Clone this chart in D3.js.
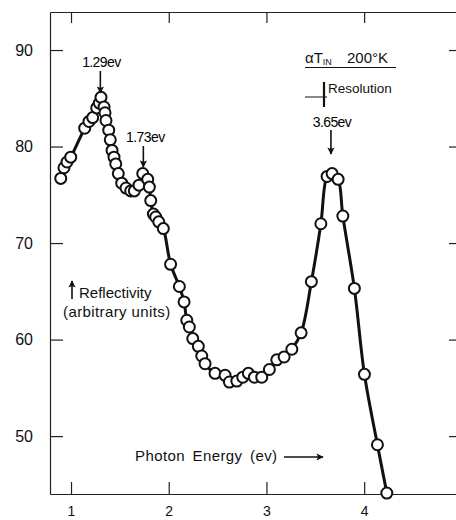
<!DOCTYPE html>
<html lang="en">
<head>
  <title>Reflectivity of alpha tin</title>
  <meta charset="UTF-8">
  <style>
    body { margin: 0; background: #fff; }
    svg { display: block; font-family: "Liberation Sans", Arial, sans-serif; }
  </style>
  <script src="https://cdn.jsdelivr.net/npm/d3@7"></script>
</head>
<body>
  <script>
    // photon energy (ev) and reflectivity (arbitrary units)
    var energy = [0.895, 0.928, 0.959, 0.997, 1.140, 1.184, 1.222, 1.263, 1.290, 1.307,
                  1.338, 1.348, 1.358, 1.386, 1.402, 1.420, 1.440, 1.458, 1.484, 1.519,
                  1.563, 1.611, 1.648, 1.696, 1.734, 1.785, 1.802, 1.816, 1.843, 1.867,
                  1.898, 1.945, 2.019, 2.109, 2.157, 2.185, 2.211, 2.246, 2.303, 2.338,
                  2.372, 2.474, 2.577, 2.621, 2.697, 2.758, 2.815, 2.877, 2.952, 3.030,
                  3.106, 3.181, 3.260, 3.355, 3.460, 3.557, 3.621, 3.672, 3.734, 3.782,
                  3.900, 4.003, 4.136, 4.232];
    var reflectivity = [76.7, 77.8, 78.4, 78.9, 81.9, 82.6, 83.0, 84.0, 84.5, 85.1,
                        84.1, 83.5, 82.7, 81.7, 80.7, 79.6, 78.9, 78.2, 77.2, 76.2,
                        75.7, 75.4, 75.4, 76.0, 77.2, 76.6, 75.8, 74.4, 73.0, 72.7,
                        72.2, 71.5, 67.8, 65.5, 63.9, 62.0, 61.3, 60.1, 59.3, 58.3,
                        57.5, 56.5, 56.3, 55.6, 55.7, 56.1, 56.5, 56.1, 56.1, 56.9,
                        57.9, 58.2, 59.0, 60.7, 66.0, 72.0, 76.9, 77.2, 76.6, 72.8,
                        65.3, 56.4, 49.1, 44.1];

    var peakEnergy = [1.29, 1.73, 3.65];
    var peakLabels = ["1.29ev", "1.73ev", "3.65ev"];

    var xTicks = [1, 2, 3, 4];
    var yTicks = [50, 60, 70, 80, 90];

    var W = 456, H = 520;
    var mLeft = 50, mTop = 12, mRight = 456, mBottom = 494;

    var x = d3.scaleLinear().domain([0.785, 4.94]).range([mLeft, mRight]);
    var y = d3.scaleLinear().domain([44, 93.94]).range([mBottom, mTop]);

    var svg = d3.select("body").append("svg").attr("width", W).attr("height", H);

    var defs = svg.append("defs");
    defs.append("marker")
      .attr("id", "head")
      .attr("viewBox", "0 0 10 10")
      .attr("refX", 9).attr("refY", 5)
      .attr("markerWidth", 5).attr("markerHeight", 4.5)
      .attr("orient", "auto")
      .append("path").attr("d", "M0,0L10,5L0,10L2,5Z").attr("fill", "#111");

    // axes
    var axisStyle = function(g) {
      g.selectAll("path, line").attr("stroke", "#222").attr("stroke-width", 1.2);
      g.selectAll("text").attr("fill", "#111");
    };

    svg.append("g")
      .attr("transform", "translate(" + mLeft + ",0)")
      .call(d3.axisLeft(y).tickValues(yTicks).tickSize(-13).tickSizeOuter(0).tickPadding(17))
      .call(axisStyle)
      .call(function(g) { g.selectAll("text").attr("font-size", 16).attr("font-family", "inherit"); });

    svg.append("g")
      .attr("transform", "translate(" + mRight + ",0)")
      .call(d3.axisRight(y).tickValues(yTicks).tickSize(-7).tickFormat(""))
      .call(axisStyle)
      .call(function(g) { g.select(".domain").remove(); });

    svg.append("g")
      .attr("transform", "translate(0," + mTop + ")")
      .call(d3.axisTop(x).tickValues(xTicks).tickSize(-11).tickSizeOuter(0).tickFormat(""))
      .call(axisStyle);

    svg.append("g")
      .attr("transform", "translate(0," + mBottom + ")")
      .call(d3.axisBottom(x).tickValues(xTicks).tickFormat(d3.format("d"))
        .tickSize(-12).tickSizeOuter(0).tickPadding(12))
      .call(axisStyle)
      .call(function(g) { g.selectAll("text").attr("font-size", 14).attr("font-family", "inherit"); });

    // curve and points
    var pts = energy.map(function(e, i) { return [e, reflectivity[i]]; });

    svg.append("path")
      .datum(pts)
      .attr("fill", "none")
      .attr("stroke", "#111")
      .attr("stroke-width", 3)
      .attr("stroke-linejoin", "round")
      .attr("d", d3.line()
        .x(function(d) { return x(d[0]); })
        .y(function(d) { return y(d[1]); })
        .curve(d3.curveCatmullRom.alpha(0.5)));

    svg.append("g").selectAll("circle")
      .data(pts)
      .enter()
      .append("circle")
      .attr("cx", function(d) { return x(d[0]); })
      .attr("cy", function(d) { return y(d[1]); })
      .attr("r", 5.5)
      .attr("fill", "#fff")
      .attr("stroke", "#111")
      .attr("stroke-width", 2);

    // peak labels with arrows
    var labelY = [67, 142, 127];
    var arrowTop = [71, 146, 130];
    var arrowTip = [93, 167, 154];
    var labelDx = [2, 3, 2];

    var peaks = svg.append("g");
    peakEnergy.forEach(function(e, i) {
      peaks.append("text")
        .attr("x", x(e) + labelDx[i]).attr("y", labelY[i])
        .attr("text-anchor", "middle")
        .attr("font-size", 14)
        .attr("letter-spacing", -0.6)
        .text(peakLabels[i]);
      peaks.append("line")
        .attr("x1", x(e) + 1).attr("x2", x(e) + 1)
        .attr("y1", arrowTop[i]).attr("y2", arrowTip[i])
        .attr("stroke", "#111").attr("stroke-width", 1.6)
        .attr("marker-end", "url(#head)");
    });

    // legend: sample and resolution
    var sample = svg.append("text").attr("x", 305).attr("y", 63).attr("font-size", 15).attr("fill", "#111");
    sample.append("tspan").text("\u03b1T");
    sample.append("tspan").attr("font-size", 9).attr("dy", 2).text("IN");
    sample.append("tspan").attr("x", 347).attr("dy", -2).text("200\u00b0K");
    svg.append("line").attr("x1", 305).attr("x2", 396).attr("y1", 67.5).attr("y2", 67.5)
      .attr("stroke", "#111").attr("stroke-width", 1);

    svg.append("line").attr("x1", 305).attr("x2", 327).attr("y1", 97).attr("y2", 97)
      .attr("stroke", "#111").attr("stroke-width", 1);
    svg.append("line").attr("x1", 324).attr("x2", 324).attr("y1", 82).attr("y2", 107)
      .attr("stroke", "#111").attr("stroke-width", 2.2);
    svg.append("text").attr("x", 328).attr("y", 93).attr("font-size", 13.5).attr("fill", "#111")
      .text("Resolution");

    // axis captions
    svg.append("line").attr("x1", 72).attr("x2", 72).attr("y1", 299).attr("y2", 281)
      .attr("stroke", "#111").attr("stroke-width", 1.6).attr("marker-end", "url(#head)");
    svg.append("text").attr("x", 79).attr("y", 298).attr("font-size", 15).attr("fill", "#111")
      .text("Reflectivity");
    svg.append("text").attr("x", 63).attr("y", 317).attr("font-size", 15).attr("fill", "#111")
      .attr("letter-spacing", 0.4)
      .text("(arbitrary units)");

    svg.append("text").attr("x", 135).attr("y", 461).attr("font-size", 15).attr("fill", "#111")
      .attr("letter-spacing", 0.4).attr("word-spacing", 3)
      .text("Photon Energy (ev)");
    svg.append("line").attr("x1", 284).attr("x2", 323).attr("y1", 457).attr("y2", 457)
      .attr("stroke", "#111").attr("stroke-width", 1.6).attr("marker-end", "url(#head)");
  </script>
</body>
</html>
